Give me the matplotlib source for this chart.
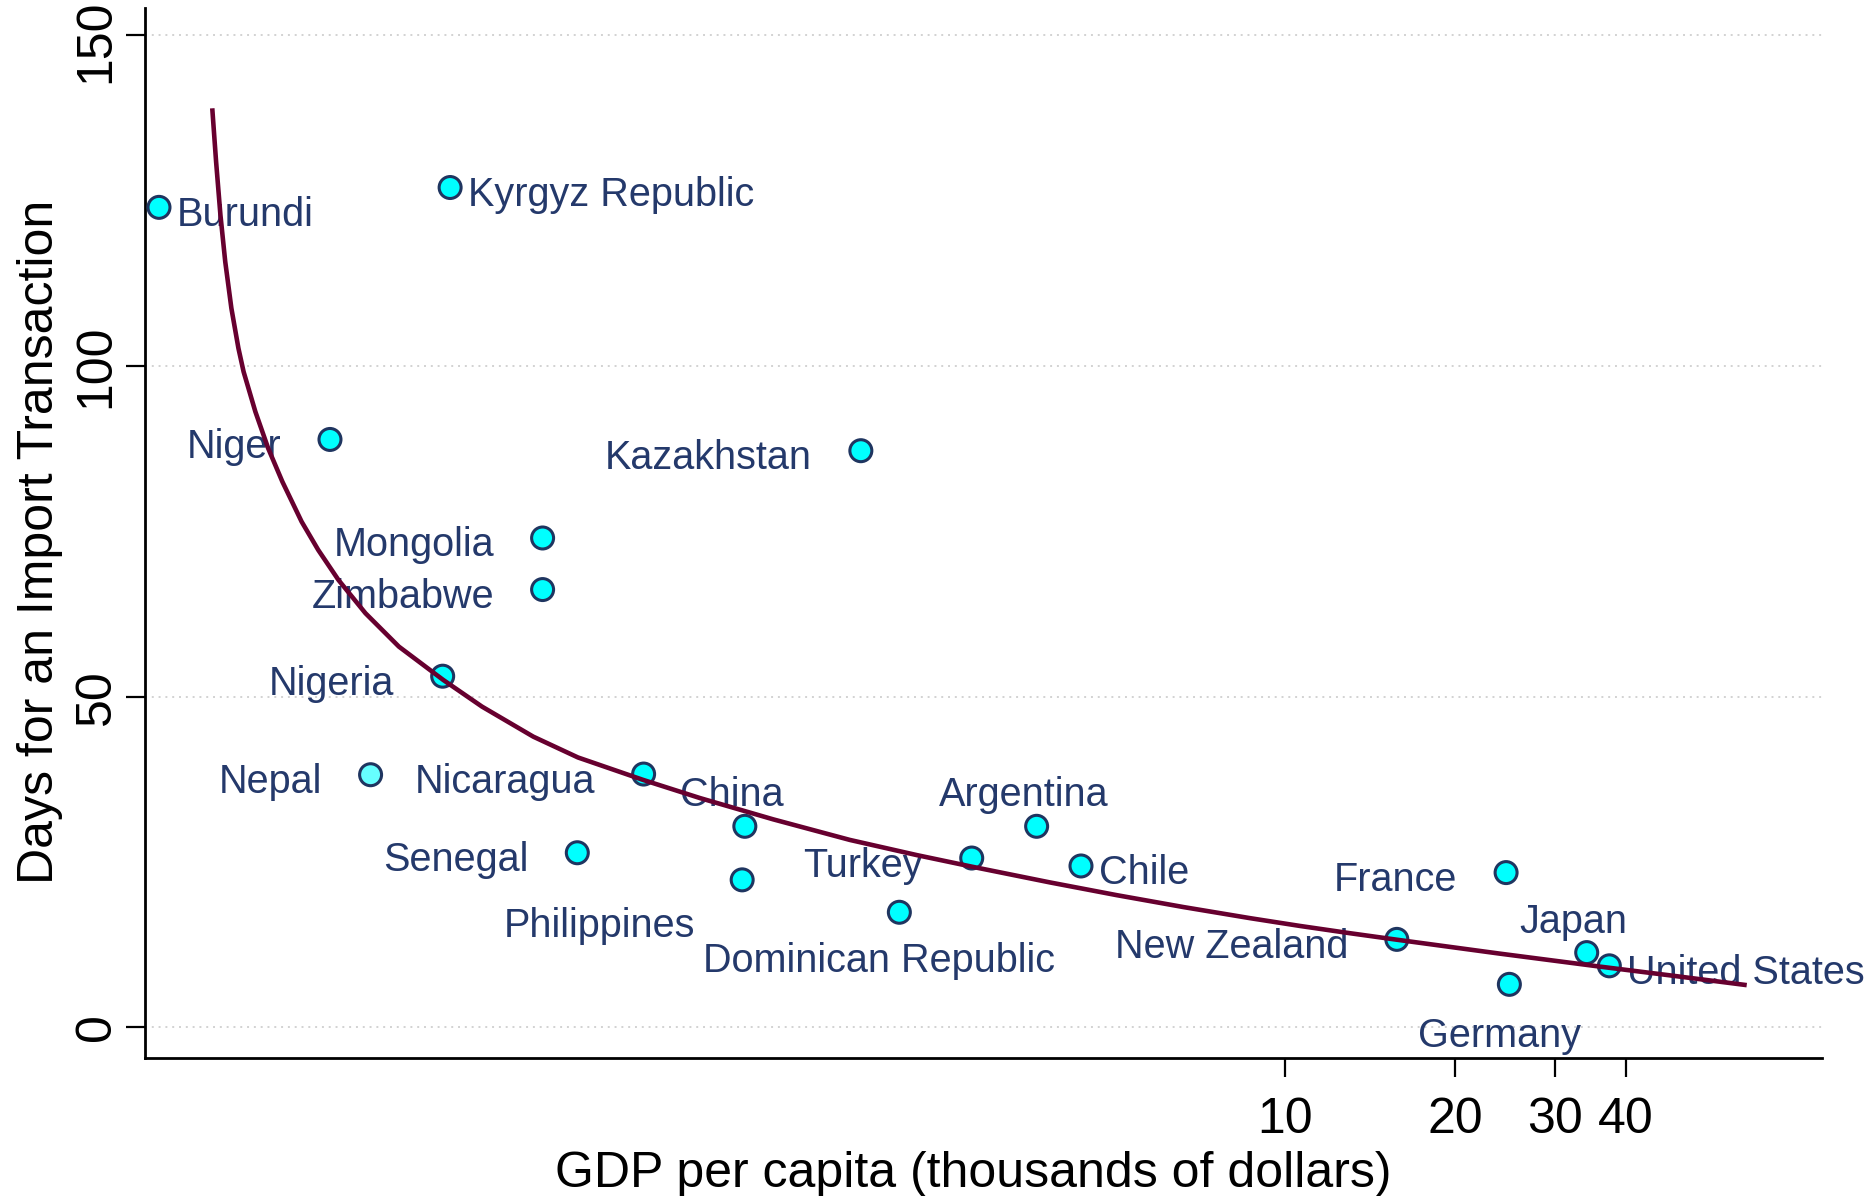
import matplotlib
matplotlib.use("Agg")
from matplotlib import pyplot as plt
from matplotlib.ticker import NullLocator

plt.rcParams['font.family'] = ['Liberation Sans', 'DejaVu Sans']

# GDP per capita (thousands of dollars) and days for an import transaction
countries = ['Burundi', 'Kyrgyz Republic', 'Niger', 'Mongolia', 'Zimbabwe', 'Nigeria',
             'Nepal', 'Nicaragua', 'Senegal', 'China', 'Philippines', 'Kazakhstan',
             'Dominican Republic', 'Turkey', 'Argentina', 'Chile', 'New Zealand',
             'France', 'Germany', 'Japan', 'United States']
gdp = [0.1025, 0.335, 0.2055, 0.488, 0.488, 0.325,
       0.2424, 0.736, 0.562, 1.111, 1.099, 1.781,
       2.083, 2.796, 3.641, 4.361, 15.76,
       24.58, 24.91, 34.12, 37.41]
days = [124.0, 127.0, 88.9, 74.0, 66.2, 53.1,
        38.2, 38.3, 26.4, 30.4, 22.3, 87.2,
        17.4, 25.6, 30.4, 24.4, 13.3,
        23.4, 6.5, 11.3, 9.3]

# fitted curve
fit_gdp = [0.1273, 0.1293, 0.1316, 0.1342, 0.1376, 0.1416, 0.1446, 0.1517, 0.1598,
           0.1693, 0.1831, 0.1959, 0.2127, 0.2374, 0.2720, 0.3258, 0.3814, 0.4698,
           0.5635, 0.7349, 0.9257, 1.247, 1.703, 2.235, 2.796, 3.845, 5.042, 6.612,
           8.673, 10.63, 13.03, 15.76, 23.98, 36.02, 47.25, 65.42]
fit_days = [138.98, 130.91, 122.85, 115.79, 108.74, 102.69, 99.15, 93.10, 87.57,
            82.52, 76.47, 72.19, 67.65, 62.62, 57.57, 52.53, 48.50, 43.96,
            40.81, 37.41, 34.67, 31.45, 28.34, 26.05, 24.30, 21.91, 19.99, 18.19,
            16.51, 15.33, 14.23, 13.25, 11.14, 9.18, 7.92, 6.38]

x_ticks = [10, 20, 30, 40]
y_ticks = [0, 50, 100, 150]

# label placement: (dx pt, dy pt, ha)
place = {
    'r': (13, -13.3, 'left'),
    'l': (-35, -13.3, 'right'),
    't': (-9.4, 14.4, 'center'),
    'b': (-7, -45, 'center'),
    'bd': (-14.4, -43, 'center'),
    'bl': (-34, -41, 'right'),
}
label_pos = {
    'Burundi': 'r', 'Kyrgyz Republic': 'r', 'Niger': 'l', 'Mongolia': 'l',
    'Zimbabwe': 'l', 'Nigeria': 'l', 'Nepal': 'l', 'Nicaragua': 'l',
    'Senegal': 'l', 'China': 't', 'Philippines': 'bl', 'Kazakhstan': 'l',
    'Dominican Republic': 'bd', 'Turkey': 'l', 'Argentina': 't', 'Chile': 'r',
    'New Zealand': 'l', 'France': 'l', 'Germany': 'b', 'Japan': 't',
    'United States': 'r',
}

navy = '#24396b'
fig = plt.figure(figsize=(18.7, 11.96), dpi=100)
ax = fig.add_axes([0.0775, 0.1156, 0.8966, 0.878])
ax.set_xscale('log')

for yv in y_ticks:
    ax.axhline(yv, color='#d2d2d2', lw=1.4, linestyle=(0, (1, 2.5)), zorder=1)

faces = ['#66ffff' if c == 'Nepal' else '#00ffff' for c in countries]
ax.scatter(gdp, days, s=250, c=faces, edgecolors='#1f3560', linewidths=2.2, zorder=3)

for name, xv, yv in zip(countries, gdp, days):
    dx, dy, ha = place[label_pos[name]]
    ax.annotate(name, (xv, yv), xytext=(dx, dy), textcoords='offset points',
                ha=ha, va='baseline', fontsize=28.5, color=navy, zorder=4)

ax.plot(fit_gdp, fit_days, color='#67002f', lw=3.3, zorder=5,
        solid_capstyle='butt', solid_joinstyle='round')

ax.set_xlim(0.0968, 88.7)
ax.set_ylim(-4.6, 154.2)
ax.set_xticks(x_ticks)
ax.set_xticklabels([str(t) for t in x_ticks])
ax.xaxis.set_minor_locator(NullLocator())
ax.set_yticks(y_ticks)
ax.set_yticklabels([])

# y tick labels drawn by hand, the top one nudged down to stay inside the figure
ytrans = ax.get_yaxis_transform()
for t in y_ticks:
    nudge = -4 if t == y_ticks[-1] else 0
    ax.annotate(str(t), (0, t), xycoords=ytrans, xytext=(-18.2, nudge),
                textcoords='offset points', rotation=90, ha='right', va='center',
                fontsize=36, annotation_clip=False)

for side in ['top', 'right']:
    ax.spines[side].set_visible(False)
for side in ['left', 'bottom']:
    ax.spines[side].set_linewidth(2)
ax.tick_params(axis='x', length=14, width=1.6, labelsize=36, pad=14)
ax.tick_params(axis='y', length=13.5, width=1.6)

ax.set_xlabel('GDP per capita (thousands of dollars)', fontsize=36)
ax.xaxis.set_label_coords(0.494, -0.0892)
ax.set_ylabel('Days for an Import Transaction', fontsize=36)
ax.yaxis.set_label_coords(-0.0491, 0.4917)

plt.savefig('out.png', dpi=100)
plt.close()
